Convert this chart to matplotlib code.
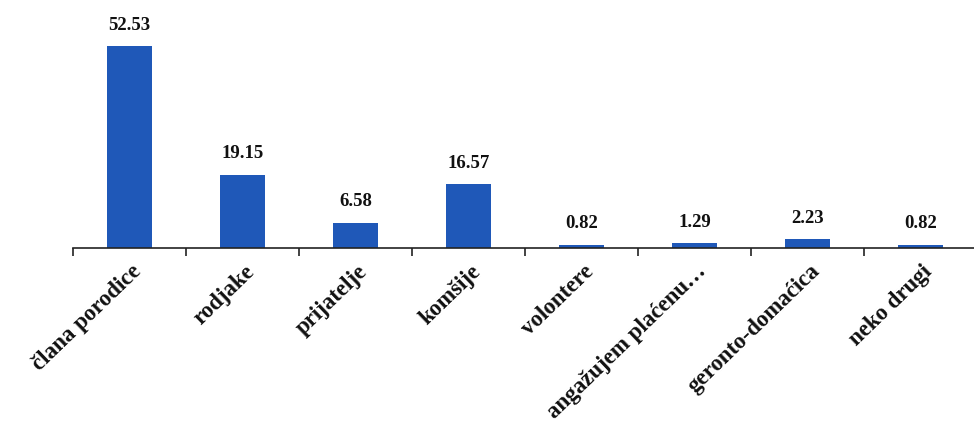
import numpy as np
import matplotlib.pyplot as plt
from matplotlib.transforms import ScaledTranslation

categories = ["člana porodice", "rodjake", "prijatelje", "komšije",
              "volontere", "angažujem plaćenu…", "geronto-domaćica", "neko drugi"]
values = [52.53, 19.15, 6.58, 16.57, 0.82, 1.29, 2.23, 0.82]
value_labels = ["52.53", "19.15", "6.58", "16.57", "0.82", "1.29", "2.23", "0.82"]

plt.rcParams['font.family'] = ['Liberation Serif', 'DejaVu Serif']

fig = plt.figure(figsize=(9.74, 4.31), dpi=100)
ax = fig.add_axes([0.075, 0.4223, 0.928, 0.534])

x = np.arange(len(categories))
ax.bar(x, values, width=0.4, color='#1f58b8', zorder=2)

for xi, v, lab in zip(x, values, value_labels):
    ax.text(xi, v + 3.5, lab, ha='center', va='bottom',
            fontsize=13.5, fontweight='bold', color='#111111')

ax.set_xlim(-0.5, len(categories) - 0.5)
ax.set_ylim(0, 60)

for s in ['top', 'right', 'left']:
    ax.spines[s].set_visible(False)
ax.spines['bottom'].set_linewidth(1.2)
ax.spines['bottom'].set_color('#222222')
ax.set_yticks([])

ax.set_xticks(x)
ax.set_xticklabels(categories, rotation=44, ha='right', va='center',
                   rotation_mode='anchor', fontsize=16.5, fontweight='bold',
                   color='#111111')
ax.tick_params(axis='x', which='major', length=0, pad=14)
shift = ScaledTranslation(9 / 100, 0, fig.dpi_scale_trans)
for t in ax.get_xticklabels():
    t.set_transform(t.get_transform() + shift)
ax.set_xticks(np.arange(-0.5, len(categories), 1.0), minor=True)
ax.tick_params(axis='x', which='minor', length=6, width=1.2,
               direction='out', color='#222222')

fig.savefig('out.png', dpi=100)
